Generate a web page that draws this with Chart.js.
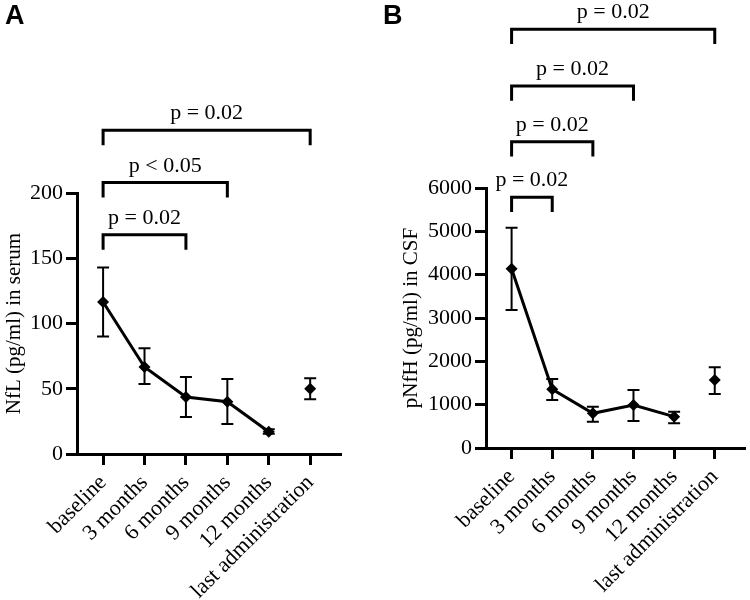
<!DOCTYPE html>
<html>
<head>
<meta charset="utf-8">
<script src="https://cdn.jsdelivr.net/npm/chart.js@4.4.1/dist/chart.umd.min.js"></script>
<style>
body { margin: 0; background: #fff; width: 750px; height: 600px; position: relative; overflow: hidden; }
canvas { position: absolute; top: 0; }
#nfl { left: 0; }
#pnfh { left: 375px; }
.panel { position: absolute; top: 0; z-index: 2; font: bold 27px 'Liberation Sans', Arial, sans-serif; }
</style>
</head>
<body>
<canvas id="nfl" width="375" height="600"></canvas>
<canvas id="pnfh" width="375" height="600"></canvas>
<div class="panel" style="left:5px">A</div>
<div class="panel" style="left:383px">B</div>
<script>
'use strict';

const timepoints = ['baseline', '3 months', '6 months', '9 months', '12 months', 'last administration'];

// serum NfL (pg/ml): mean with error bar ends
const nflMean = [116.5, 66.7, 43.7, 40, 17, 50];
const nflUpper = [143, 81, 59, 57.5, 19, 58];
const nflLower = [90, 53.6, 28.4, 23, 15.5, 42];

// CSF pNfH (pg/ml)
const pnfhMean = [4137, 1354, 800, 992, 723, 1569];
const pnfhUpper = [5084, 1592, 954, 1338, 838, 1862];
const pnfhLower = [3185, 1108, 608, 623, 569, 1246];

// comparisons against baseline
const nflCompareTo = [5, 3, 2];
const nflCompareHeight = [248, 208, 168];
const nflCompareText = ['p = 0.02', 'p < 0.05', 'p = 0.02'];

const pnfhCompareTo = [5, 3, 2, 1];
const pnfhCompareHeight = [9662, 8354, 7069, 5785];
const pnfhCompareText = ['p = 0.02', 'p = 0.02', 'p = 0.02', 'p = 0.02'];

Chart.defaults.font.family = '"Liberation Serif", "Times New Roman", serif';
Chart.defaults.color = '#000';

const annotations = {
    id: 'annotations',
    afterDatasetsDraw(chart, args, o) {
        const { ctx, scales: { x, y } } = chart;
        ctx.save();
        ctx.strokeStyle = '#000';
        ctx.lineWidth = 2;
        o.upper.forEach((hi, i) => {
            const px = x.getPixelForValue(i);
            const top = y.getPixelForValue(hi);
            const bot = y.getPixelForValue(o.lower[i]);
            ctx.beginPath();
            ctx.moveTo(px, top); ctx.lineTo(px, bot);
            ctx.moveTo(px - 6, top); ctx.lineTo(px + 6, top);
            ctx.moveTo(px - 6, bot); ctx.lineTo(px + 6, bot);
            ctx.stroke();
        });
        ctx.fillStyle = '#000';
        ctx.font = '22px "Liberation Serif"';
        ctx.textAlign = 'center';
        o.text.forEach((t, k) => {
            const cx = (x.getPixelForValue(0) + x.getPixelForValue(o.to[k])) / 2;
            ctx.fillText(t, cx, y.getPixelForValue(o.height[k]) - 11);
        });
        ctx.restore();
    }
};

function makeChart(id, cfg) {
    const points = cfg.mean.map((v, i) => ({ x: i, y: v }));
    const datasets = [
        { data: points.slice(0, 5), showLine: true },
        { data: points.slice(5), showLine: false }
    ].map(d => Object.assign(d, {
        borderColor: '#000', backgroundColor: '#000', borderWidth: 3,
        pointStyle: 'rectRot', pointRadius: 6, pointBorderWidth: 0
    }));

    cfg.to.forEach((end, k) => {
        const h = cfg.height[k];
        datasets.push({
            data: [{ x: 0, y: h - cfg.drop }, { x: 0, y: h }, { x: end, y: h }, { x: end, y: h - cfg.drop }],
            showLine: true, clip: false, pointRadius: 0,
            borderColor: '#000', borderWidth: 3, borderJoinStyle: 'miter'
        });
    });

    new Chart(document.getElementById(id), {
        type: 'scatter',
        data: { datasets: datasets },
        options: {
            responsive: false,
            animation: false,
            layout: { padding: cfg.padding },
            plugins: {
                legend: { display: false },
                tooltip: { enabled: false },
                annotations: { upper: cfg.upper, lower: cfg.lower, to: cfg.to, height: cfg.height, text: cfg.text }
            },
            scales: {
                x: {
                    type: 'linear', min: -0.63, max: 5.72,
                    afterBuildTicks: s => { s.ticks = timepoints.map((_, i) => ({ value: i })); },
                    afterFit: s => { s.height = cfg.xHeight; },
                    ticks: {
                        callback: (v, i) => timepoints[i],
                        autoSkip: false, minRotation: 45, maxRotation: 45,
                        font: { size: 22 }, color: '#000', padding: 5
                    },
                    grid: { drawOnChartArea: false, color: '#000', lineWidth: 3, tickLength: 11 },
                    border: { color: '#000', width: 3 }
                },
                y: {
                    min: 0, max: cfg.max,
                    afterFit: s => { s.width = cfg.yWidth; },
                    ticks: { stepSize: cfg.step, callback: v => String(v), font: { size: 22 }, color: '#000', padding: 3 },
                    grid: { drawOnChartArea: false, color: '#000', lineWidth: 3, tickLength: 11 },
                    border: { color: '#000', width: 3 },
                    title: { display: true, text: cfg.title, font: { size: 21 }, color: '#000', padding: { top: 0, bottom: 2 } }
                }
            }
        },
        plugins: [annotations]
    });
}

makeChart('nfl', {
    mean: nflMean, upper: nflUpper, lower: nflLower,
    to: nflCompareTo, height: nflCompareHeight, text: nflCompareText, drop: 11.5,
    max: 200, step: 50, title: 'NfL (pg/ml) in serum',
    padding: { left: 2, top: 193, right: 35, bottom: 0 }, yWidth: 75, xHeight: 146
});

makeChart('pnfh', {
    mean: pnfhMean, upper: pnfhUpper, lower: pnfhLower,
    to: pnfhCompareTo, height: pnfhCompareHeight, text: pnfhCompareText, drop: 340,
    max: 6000, step: 1000, title: 'pNfH (pg/ml) in CSF',
    padding: { left: 24, top: 188, right: 2, bottom: 0 }, yWidth: 87, xHeight: 152
});
</script>
</body>
</html>
